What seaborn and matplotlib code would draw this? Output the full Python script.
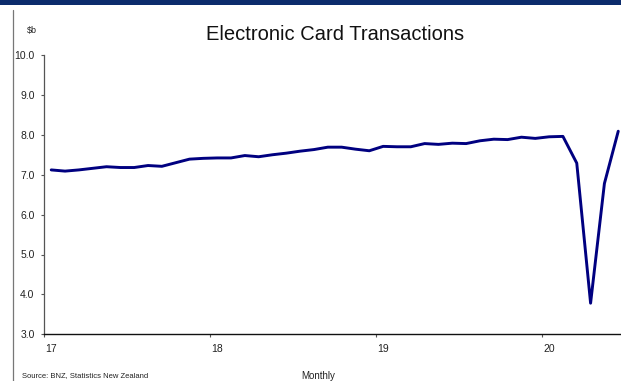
import numpy as np
import pandas as pd
import matplotlib
matplotlib.use("Agg")
import matplotlib.pyplot as plt
from matplotlib.lines import Line2D
from matplotlib.patches import Rectangle
import seaborn as sns

# Monthly values, Jan 2017 - Jun 2020 ($b)
months = pd.date_range("2017-01-01", "2020-06-01", freq="MS").strftime("%b %y").tolist()
values = [7.12, 7.09, 7.12, 7.16, 7.20, 7.18, 7.18, 7.23, 7.21, 7.30, 7.39, 7.41,
          7.42, 7.42, 7.48, 7.45, 7.50, 7.54, 7.59, 7.63, 7.69, 7.69, 7.64, 7.60,
          7.71, 7.70, 7.70, 7.78, 7.76, 7.79, 7.78, 7.85, 7.89, 7.88, 7.94, 7.91,
          7.95, 7.96, 7.29, 3.78, 6.78, 8.09]
year_labels = ["17", "18", "19", "20"]
y_ticks = [3.0, 4.0, 5.0, 6.0, 7.0, 8.0, 9.0, 10.0]

sns.set_theme(style="white")
plt.rcParams["font.family"] = ["Liberation Sans", "DejaVu Sans"]

df = pd.DataFrame({"month": np.arange(len(values)) + 0.5, "value": values, "label": months})

fig = plt.figure(figsize=(6.21, 3.81), dpi=100)
fig.patch.set_facecolor("white")
ax = fig.add_axes([44.3 / 621, 1 - 334.3 / 381, 1 - 44.3 / 621, (334.3 - 55) / 381])

sns.lineplot(data=df, x="month", y="value", ax=ax, color="#000080", linewidth=2.1)

ax.set_xlim(0, (621 - 44.3) / 13.83)
ax.set_ylim(3.0, 10.0)
ax.set_yticks(y_ticks)
ax.set_yticklabels([f"{v:.1f}" for v in y_ticks], fontsize=7.5, color="#222222")
ax.tick_params(axis="y", which="major", length=2.5, width=0.8, color="#555555",
               direction="out", pad=4.5, left=True)

# year boundary ticks (no labels) and centered year labels on January
ax.set_xticks([0, 12, 24, 36])
ax.set_xticklabels([])
ax.tick_params(axis="x", which="major", length=2, width=0.8, color="#555555",
               direction="out", bottom=True)
ax.set_xticks([0.5, 12.5, 24.5, 36.5], minor=True)
ax.set_xticklabels(year_labels, minor=True, fontsize=7.5, color="#222222")
ax.tick_params(axis="x", which="minor", length=0, pad=7)

ax.set_xlabel("")
ax.set_ylabel("")
ax.grid(False)
for s in ["top", "right"]:
    ax.spines[s].set_visible(False)
ax.spines["left"].set_color("#555555")
ax.spines["left"].set_linewidth(0.9)
ax.spines["bottom"].set_color("#111111")
ax.spines["bottom"].set_linewidth(1.0)

# header bar and frame line
fig.add_artist(Rectangle((0, 1 - 5 / 381), 1, 5 / 381, transform=fig.transFigure,
                         facecolor="#0c2c6c", edgecolor="none"))
fig.add_artist(Line2D([12.7 / 621, 12.7 / 621], [0, 1 - 10 / 381], transform=fig.transFigure,
                      color="#777777", linewidth=0.9))

fig.text(334.7 / 621, 1 - 34 / 381, "Electronic Card Transactions", ha="center", va="center",
         fontsize=14.5, color="#111111")
fig.text(31.5 / 621, 1 - 31 / 381, "$b", ha="center", va="center", fontsize=6.5, color="#222222")
fig.text(22 / 621, 1 - 376 / 381, "Source: BNZ, Statistics New Zealand", ha="left", va="center",
         fontsize=5.5, color="#222222")
fig.text(318 / 621, 1 - 376 / 381, "Monthly", ha="center", va="center", fontsize=7, color="#222222")

fig.savefig("out.png", dpi=100, facecolor="white")
